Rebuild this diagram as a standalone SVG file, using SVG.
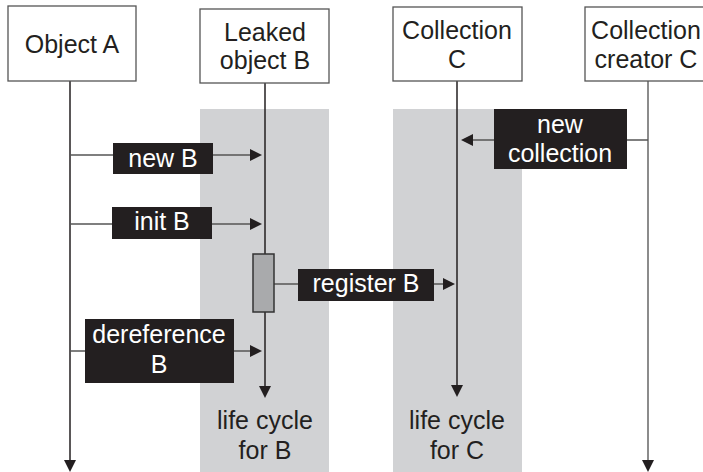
<svg xmlns="http://www.w3.org/2000/svg" width="703" height="472" viewBox="0 0 703 472">
<defs>
<style>
text{font-family:"Liberation Sans",Arial,sans-serif;font-size:25px;text-anchor:middle}
.box{fill:#fff;stroke:#555;stroke-width:1.3}
.lt{fill:#231f20}
.wt{fill:#fff}
.band{fill:#d1d2d4}
.life{stroke:#231f20;stroke-width:1.5;fill:none}
.msg{stroke:#555;stroke-width:1.5;fill:none}
.lbl{fill:#231f20}
.head{fill:#231f20}
</style>
</defs>
<rect width="703" height="472" fill="#fff"/>
<rect class="band" x="200" y="109" width="129" height="363"/>
<rect class="band" x="393" y="109" width="129" height="363"/>

<g id="connectors">
<line class="life" x1="70" y1="81" x2="70" y2="462"/>
<polygon class="head" points="64,460 76,460 70,472"/>
<line class="life" x1="265" y1="83" x2="265" y2="254"/>
<line class="life" x1="265" y1="312" x2="265" y2="388"/>
<polygon class="head" points="259,386 271,386 265,398"/>
<line class="life" x1="457" y1="81" x2="457" y2="387"/>
<polygon class="head" points="451,385 463,385 457,397"/>
<line class="life" x1="648" y1="81" x2="648" y2="462" style="stroke:#666"/>
<polygon class="head" points="642,460 654,460 648,472"/>

<line class="msg" x1="70" y1="155" x2="252" y2="155"/>
<polygon class="head" points="250,149 250,161 262,155"/>
<line class="msg" x1="70" y1="224" x2="252" y2="224"/>
<polygon class="head" points="250,218 250,230 262,224"/>
<line class="msg" x1="274" y1="284" x2="445" y2="284"/>
<polygon class="head" points="443,278 443,290 455,284"/>
<line class="msg" x1="70" y1="351" x2="252" y2="351"/>
<polygon class="head" points="250,345 250,357 262,351"/>
<line class="msg" x1="648" y1="140" x2="471" y2="140"/>
<polygon class="head" points="473,134 473,146 461,140"/>
</g>

<g id="objectA">
<rect class="box" x="8" y="6" width="128" height="75"/>
<text class="lt" x="72" y="53">Object A</text>
</g>
<g id="leakedB">
<rect class="box" x="200" y="9" width="129" height="74"/>
<text class="lt" x="265" y="41">Leaked</text>
<text class="lt" x="265" y="69">object B</text>
</g>
<g id="collectionC">
<rect class="box" x="393" y="7" width="129" height="74"/>
<text class="lt" x="457" y="39">Collection</text>
<text class="lt" x="457" y="68">C</text>
</g>
<g id="creatorC">
<rect class="box" x="585" y="7" width="130" height="74"/>
<text class="lt" x="646" y="39">Collection</text>
<text class="lt" x="646" y="68">creator C</text>
</g>
<g id="activationB">
<rect x="253" y="254" width="21" height="58" fill="#a9aaac" stroke="#333" stroke-width="1.5"/>
</g>

<g id="lbl-newB">
<rect class="lbl" x="113" y="143" width="100" height="31"/>
<text class="wt" x="163" y="167">new B</text>
</g>
<g id="lbl-initB">
<rect class="lbl" x="112" y="207" width="100" height="32"/>
<text class="wt" x="162" y="230">init B</text>
</g>
<g id="lbl-registerB">
<rect class="lbl" x="298" y="269" width="136" height="32"/>
<text class="wt" x="366" y="292">register B</text>
</g>
<g id="lbl-derefB">
<rect class="lbl" x="85" y="319" width="149" height="64"/>
<text class="wt" x="159" y="343">dereference</text>
<text class="wt" x="159" y="373">B</text>
</g>
<g id="lbl-newColl">
<rect class="lbl" x="494" y="109" width="133" height="60"/>
<text class="wt" x="560" y="133">new</text>
<text class="wt" x="560" y="162">collection</text>
</g>
<g id="lifeB">
<text class="lt" x="265" y="429">life cycle</text>
<text class="lt" x="265" y="459">for B</text>
</g>
<g id="lifeC">
<text class="lt" x="457" y="429">life cycle</text>
<text class="lt" x="457" y="459">for C</text>
</g>
</svg>
